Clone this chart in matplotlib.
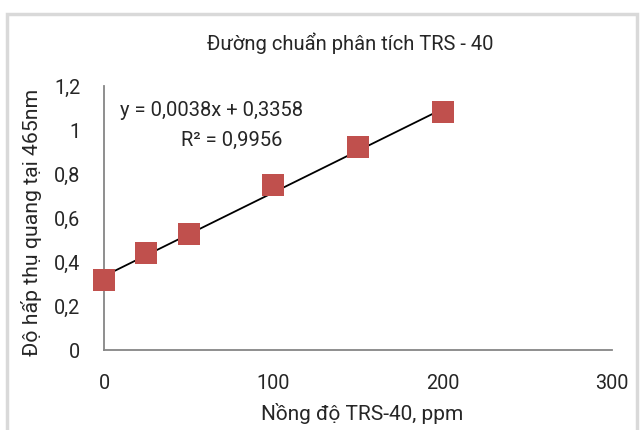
import numpy as np
import matplotlib.pyplot as plt
from matplotlib.patches import Rectangle

plt.rcParams['font.family'] = ['Roboto', 'DejaVu Sans']

# data
conc = [0, 25, 50, 100, 150, 200]
absorb = [0.318, 0.44, 0.527, 0.75, 0.922, 1.082]
slope, intercept = 0.0038, 0.3358

x_ticks = [0, 100, 200, 300]
y_ticks = [0, 0.2, 0.4, 0.6, 0.8, 1.0, 1.2]
y_tick_labels = ["0", "0,2", "0,4", "0,6", "0,8", "1", "1,2"]

fig = plt.figure(figsize=(6.41, 4.30), dpi=100)
fig.patches.append(Rectangle((7 / 641, -0.05), 630 / 641, 1 - 14 / 430 + 0.05,
                             transform=fig.transFigure, fill=False,
                             edgecolor="#D9D9D9", linewidth=2.5))

ax = fig.add_axes([104 / 641, 1 - 350 / 430, 508 / 641, 264 / 430])

xs = np.array([conc[0], conc[-1]])
ax.plot(xs, slope * xs + intercept, color="black", linewidth=1.3, zorder=2)
ax.scatter(conc, absorb, marker="s", s=260, color="#C0504D", edgecolor="#C0504D",
           linewidth=0, zorder=3, clip_on=False)

ax.set_xlim(0, 300)
ax.set_ylim(0, 1.2)
ax.set_xticks(x_ticks)
ax.set_yticks(y_ticks)
ax.set_yticklabels(y_tick_labels)
ax.tick_params(length=0, labelsize=14.3, colors="#262626")
ax.tick_params(axis="x", pad=17)
ax.tick_params(axis="y", pad=17)
for s in ["top", "right"]:
    ax.spines[s].set_visible(False)
for s in ["left", "bottom"]:
    ax.spines[s].set_color("#868686")
    ax.spines[s].set_linewidth(1.3)

# axis titles placed where they sit in the reference
fig.text(362 / 641, 1 - 413 / 430, "Nồng độ TRS-40, ppm", fontsize=15,
         ha="center", va="center", color="#262626")
fig.text(32 / 641, 1 - 222 / 430, "Độ hấp thụ quang tại 465nm", fontsize=15.3,
         ha="center", va="center", rotation=90, color="#262626")
fig.text(350 / 641, 1 - 43 / 430, "Đường chuẩn phân tích TRS - 40", fontsize=14.5,
         ha="center", va="center", color="#262626")

ax.text(120 / 641, 1 - 110 / 430, "y = 0,0038x + 0,3358", transform=fig.transFigure,
        fontsize=14.5, ha="left", va="center", color="#262626")
ax.text(181 / 641, 1 - 140 / 430, "R² = 0,9956", transform=fig.transFigure,
        fontsize=14.5, ha="left", va="center", color="#262626")

fig.savefig("out.png", dpi=100)
